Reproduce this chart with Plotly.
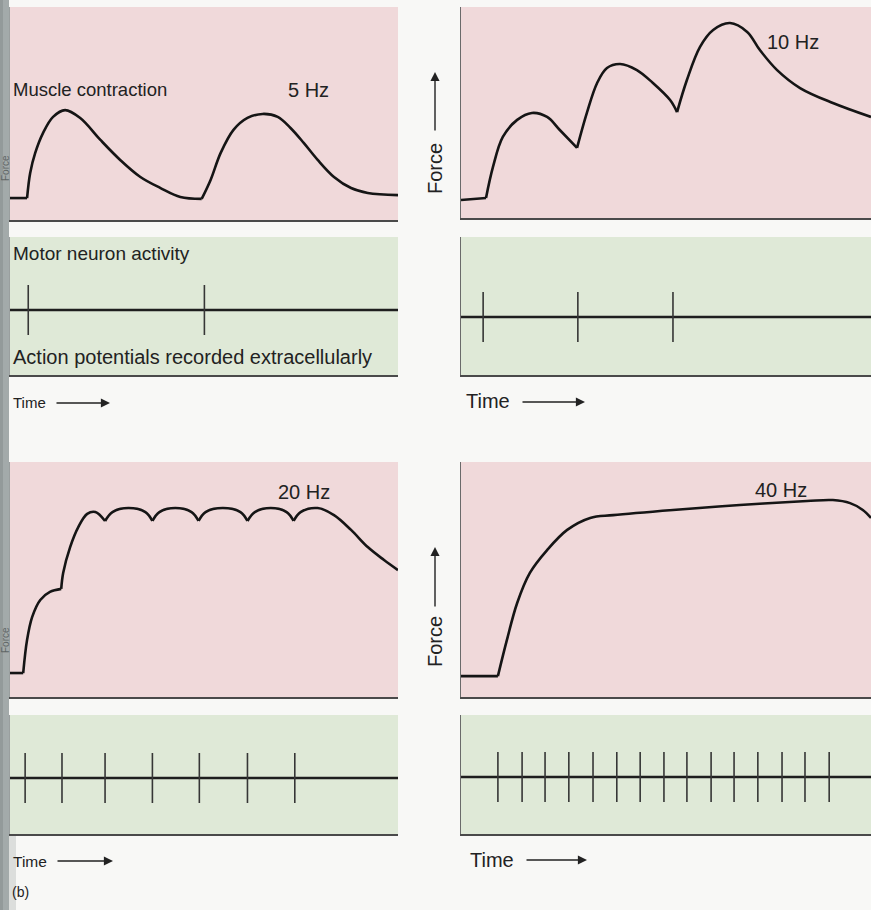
import plotly.graph_objects as go

# ---------------- data (time and force in arbitrary units, 0-100 of each panel) ----------------
# 5 Hz twitches
t5 = [0, 4.4, 5.2, 6.5, 8.5, 11.1, 14.2, 18.1, 23.3, 28.4, 33.6, 38.8, 43.9, 49.4,
      51.7, 54.3, 57.6, 61.2, 65.1, 69.0, 72.3, 75.7, 79.3, 83.5, 87.9, 92.2, 100]
f5 = [10.3, 10.3, 22.1, 31.5, 40.8, 48.4, 51.6, 47.9, 37.6, 28.2, 20.2, 15.0, 10.8, 9.9,
      18.8, 31.5, 42.3, 47.9, 49.8, 48.4, 43.2, 36.2, 28.2, 20.2, 15.0, 12.7, 11.7]
cusp5 = [1, 13]
spikes5 = [4.7, 50.1]

# 10 Hz summation
t10 = [0, 6.1, 7.8, 10.2, 13.7, 17.3, 21.0, 24.1, 28.3, 30.7, 33.2, 35.6, 38.8, 42.9,
       46.8, 51.0, 52.7, 55.1, 58.3, 61.5, 65.6, 69.8, 72.9, 77.1, 82.7, 90.7, 100]
f10 = [8.5, 9.5, 24.2, 38.4, 46.5, 49.8, 47.9, 41.7, 33.2, 49.8, 64.0, 71.1, 73.0, 70.1,
       64.0, 55.9, 50.2, 65.4, 81.1, 89.1, 92.4, 88.2, 79.6, 70.1, 61.6, 54.5, 47.9]
cusp10 = [1, 8, 16]
spikes10 = [5.4, 28.5, 51.7]

# 20 Hz unfused tetanus
t20 = [0, 3.4, 4.4, 5.7, 7.8, 10.3, 13.2, 13.7, 15.5, 17.6, 19.9, 22.0, 24.5, 26.4,
       30.5, 34.9, 36.7, 38.5, 42.6, 46.8, 48.6, 50.4, 54.8, 59.4, 61.2, 63.1, 67.2,
       71.3, 73.1, 74.9, 79.3, 83.5, 87.9, 92.2, 96.4, 100]
f20 = [10.2, 10.2, 24.3, 34.0, 41.3, 44.7, 46.0, 52.8, 63.8, 72.3, 77.9, 78.7, 74.9, 78.7,
       80.4, 78.7, 74.9, 78.7, 80.4, 78.7, 74.9, 78.7, 80.4, 78.7, 74.9, 78.7, 80.4,
       78.7, 74.9, 78.7, 80.4, 77.4, 71.1, 63.8, 58.3, 54.0]
cusp20 = [1, 6, 12, 16, 20, 24, 28]
spikes20 = [3.9, 13.4, 24.5, 36.7, 48.8, 61.2, 73.4]

# 40 Hz fused tetanus
t40 = [0, 9.0, 11.2, 13.7, 16.8, 21.0, 25.9, 31.5, 37.1, 51.7, 68.0, 84.4, 90.7, 94.9, 98.0, 100]
f40 = [8.9, 8.9, 24.3, 40.0, 52.8, 62.5, 71.1, 76.2, 77.4, 79.6, 81.7, 83.4, 83.8, 82.5, 79.6, 76.2]
cusp40 = [1]
spikes40 = [9.0, 14.9, 20.5, 26.3, 32.2, 38.0, 43.7, 49.5, 55.1, 61.0, 66.6, 72.4,
            78.3, 83.9, 89.8]

freq_labels = ["5 Hz", "10 Hz", "20 Hz", "40 Hz"]

# ---------------- layout helpers ----------------
W, H = 871, 910
FONT = "Liberation Sans, Arial, Helvetica, sans-serif"
PINK = "#f0d9da"
GREEN = "#dfe9d7"
INK = "#151515"


def px(x):
    return x / W


def py(y):
    return 1 - y / H


# panel pixel boxes: (x0, x1, ytop, ybottom)
boxes = {
    1: (10, 398, 7, 220),    # 5 Hz force
    2: (461, 871, 7, 218),   # 10 Hz force
    3: (10, 398, 237, 375),  # 5 Hz neuron
    4: (461, 871, 237, 375), # 10 Hz neuron
    5: (10, 398, 462, 697),  # 20 Hz force
    6: (461, 871, 462, 697), # 40 Hz force
    7: (10, 398, 715, 834),  # 20 Hz neuron
    8: (461, 871, 715, 834), # 40 Hz neuron
}
neuron_ranges = {3: [-2.6, 2.92], 4: [-2.32, 3.2], 7: [-2.24, 2.52], 8: [-2.28, 2.48]}

fig = go.Figure()
shapes = []
annotations = []
layout = {}


def axname(i, kind):
    return f"{kind}axis" + ("" if i == 1 else str(i))


def ref(i, kind):
    return kind + ("" if i == 1 else str(i))


for i, (x0, x1, yt, yb) in boxes.items():
    is_force = i in (1, 2, 5, 6)
    right = x0 > 400
    layout[axname(i, "x")] = dict(
        domain=[px(x0), px(x1)], range=[0, 100], anchor=ref(i, "y"),
        showgrid=False, zeroline=False, showticklabels=False, ticks="",
        showline=True, linecolor="#4a4a4a", linewidth=1.6, fixedrange=True)
    layout[axname(i, "y")] = dict(
        domain=[py(yb), py(yt)],
        range=[0, 100] if is_force else neuron_ranges[i], anchor=ref(i, "x"),
        showgrid=False, zeroline=False, showticklabels=False, ticks="",
        showline=True, linecolor="#6a6a6a" if right else "#9a9f9f",
        linewidth=1.3, fixedrange=True)
    shapes.append(dict(type="rect", xref=ref(i, "x") + " domain", yref=ref(i, "y") + " domain",
                       x0=0, x1=1, y0=0, y1=1, fillcolor=PINK if is_force else GREEN,
                       line=dict(width=0), layer="below"))


def add_curve(i, t, f, cusps):
    idx = [0] + cusps + [len(t) - 1]
    for a, b in zip(idx[:-1], idx[1:]):
        fig.add_trace(go.Scatter(
            x=t[a:b + 1], y=f[a:b + 1], mode="lines",
            line=dict(color=INK, width=2.6, shape="spline", smoothing=1.0),
            xaxis=ref(i, "x"), yaxis=ref(i, "y"), showlegend=False, hoverinfo="skip"))


def add_spikes(i, spikes):
    fig.add_trace(go.Scatter(
        x=[0, 100], y=[0, 0], mode="lines", line=dict(color="#1e1e1e", width=2.7),
        xaxis=ref(i, "x"), yaxis=ref(i, "y"), showlegend=False, hoverinfo="skip"))
    xs, ys = [], []
    for s in spikes:
        xs += [s, s, None]
        ys += [-1, 1, None]
    fig.add_trace(go.Scatter(
        x=xs, y=ys, mode="lines", line=dict(color="#363636", width=1.6),
        xaxis=ref(i, "x"), yaxis=ref(i, "y"), showlegend=False, hoverinfo="skip"))


add_curve(1, t5, f5, cusp5)
add_curve(2, t10, f10, cusp10)
add_curve(5, t20, f20, cusp20)
add_curve(6, t40, f40, cusp40)
add_spikes(3, spikes5)
add_spikes(4, spikes10)
add_spikes(7, spikes20)
add_spikes(8, spikes40)


def text(s, x, y, size, anchor="left", angle=0, color="#222222"):
    annotations.append(dict(text=s, x=px(x), y=py(y), xref="paper", yref="paper",
                            xanchor=anchor, yanchor="middle", showarrow=False,
                            textangle=angle, font=dict(family=FONT, size=size, color=color)))


def arrow(xh, yh, ax, ay):
    annotations.append(dict(text="", x=px(xh), y=py(yh), xref="paper", yref="paper",
                            showarrow=True, ax=ax, ay=ay, arrowhead=2, arrowsize=1.3,
                            arrowwidth=1.4, arrowcolor="#222222", standoff=0))


# labels
text("Muscle contraction", 11, 90, 18.5)
text(freq_labels[0], 286, 90, 20)
text(freq_labels[1], 765, 42, 20)
text(freq_labels[2], 276, 492, 20)
text(freq_labels[3], 753, 490, 20)
text("Motor neuron activity", 11, 253, 19)
text("Action potentials recorded extracellularly", 11, 357, 20)

# time axes labels
text("Time", 11, 402, 15)
arrow(110, 403, -55, 0)
text("Time", 464, 401, 20)
arrow(585, 402, -64, 0)
text("Time", 11, 861, 15.5)
arrow(113, 861, -57, 0)
text("Time", 468, 860, 20)
arrow(587, 860, -62, 0)

# force axis labels
text("Force", 435, 169, 20, anchor="center", angle=-90)
arrow(435, 72, 0, 60)
text("Force", 435, 642, 20, anchor="center", angle=-90)
arrow(435, 547, 0, 61)
# faint labels in the page-edge shadow on the left
text("Force", 5, 168, 10, anchor="center", angle=-90, color="#5f6666")
text("Force", 5, 640, 10, anchor="center", angle=-90, color="#5f6666")

text("(b)", 10, 892, 14)

# page-edge shadow from the scan
shapes.append(dict(type="rect", xref="paper", yref="paper", x0=0, x1=px(9), y0=0, y1=1,
                   fillcolor="#a3aaaa", line=dict(width=0), layer="below"))
shapes.append(dict(type="rect", xref="paper", yref="paper", x0=0, x1=px(3), y0=0, y1=1,
                   fillcolor="#939a9a", line=dict(width=0), layer="below"))
shapes.append(dict(type="rect", xref="paper", yref="paper", x0=px(9), x1=px(16), y0=0, y1=py(834),
                   fillcolor="#c9cdcc", opacity=0.6, line=dict(width=0), layer="below"))

fig.update_layout(
    width=W, height=H, margin=dict(l=0, r=0, t=0, b=0),
    paper_bgcolor="#f8f8f6", plot_bgcolor="rgba(0,0,0,0)",
    showlegend=False, shapes=shapes, annotations=annotations, **layout)

fig.write_html(
    "out.html",
    config={"displayModeBar": False},
    post_script="document.body.style.margin='0';document.body.style.overflow='hidden';")
